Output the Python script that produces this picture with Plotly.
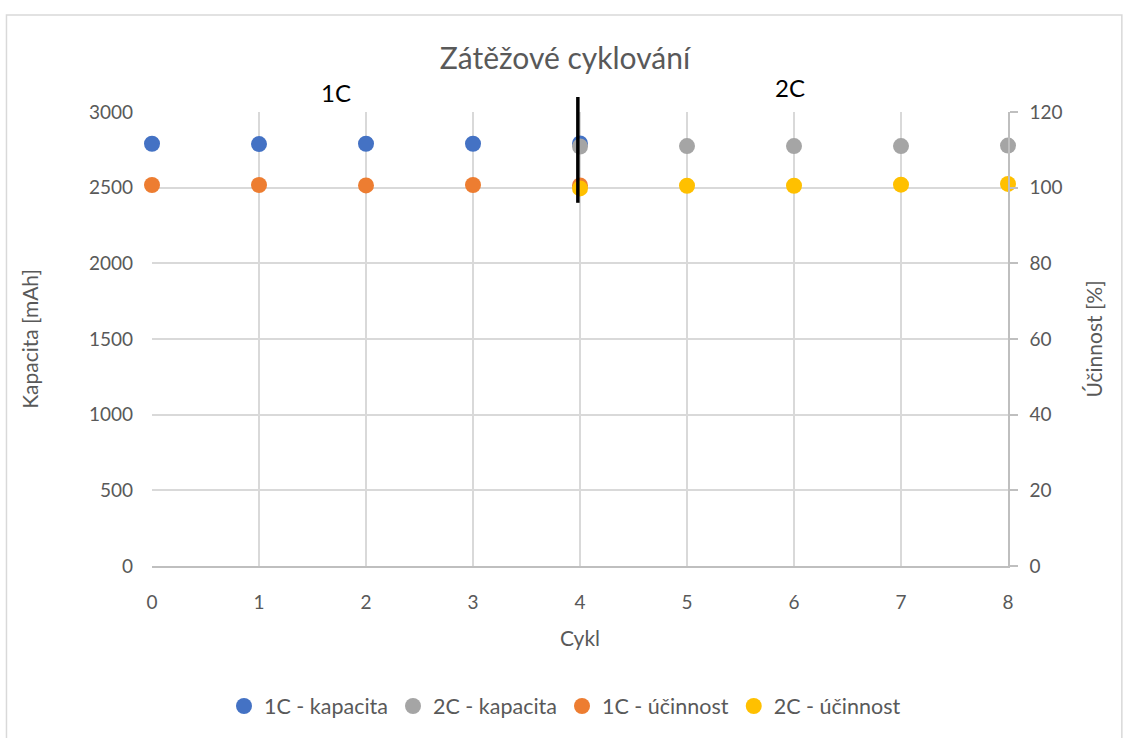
import plotly.graph_objects as go

# Cycle numbers for each test phase
cycles_1c = [0, 1, 2, 3, 4]
cycles_2c = [4, 5, 6, 7, 8]

# Discharge capacity [mAh]
cap_1c = [2790, 2788, 2790, 2790, 2792]
cap_2c = [2772, 2775, 2775, 2775, 2778]

# Coulombic efficiency [%]
eff_1c = [100.7, 100.7, 100.6, 100.7, 100.6]
eff_2c = [99.8, 100.5, 100.5, 100.8, 101.0]

grey_txt = "#595959"
grid = "#d9d9d9"
font = "Lato, Carlito, Calibri, sans-serif"

fig = go.Figure()

def add(x, y, name, color, axis):
    fig.add_trace(go.Scatter(
        x=x, y=y, name=name, mode="markers", yaxis=axis,
        marker=dict(size=16, color=color, symbol="circle"),
        cliponaxis=False,
    ))

add(cycles_1c, cap_1c, "1C - kapacita", "#4472c4", "y")
add(cycles_2c, cap_2c, "2C - kapacita", "#a5a5a5", "y")
add(cycles_1c, eff_1c, "1C - účinnost", "#ed7d31", "y2")
add(cycles_2c, eff_2c, "2C - účinnost", "#ffc000", "y2")

# chart border
fig.add_shape(type="rect", xref="paper", yref="paper",
              x0=-0.170, x1=1.133, y0=-0.385, y1=1.2137,
              line=dict(color="#d9d9d9", width=1.5), layer="below")

# divider between 1C and 2C phases (cycle 4 sits at the middle of the x range)
fig.add_shape(type="line", xref="paper", yref="paper", x0=0.4975, x1=0.4975,
              y0=0.80, y1=1.033, line=dict(color="black", width=3.5))

fig.add_annotation(x=0.2146, y=1.044, xref="paper", yref="paper", text="1C", showarrow=False,
                   xanchor="center", yanchor="middle",
                   font=dict(size=24, color="black", family=font))
fig.add_annotation(x=0.7453, y=1.053, xref="paper", yref="paper", text="2C", showarrow=False,
                   xanchor="center", yanchor="middle",
                   font=dict(size=24, color="black", family=font))

fig.update_layout(
    width=1130, height=738,
    margin=dict(l=152, r=122, t=112, b=172),
    paper_bgcolor="white", plot_bgcolor="white",
    font=dict(family=font, color=grey_txt, size=19),
    title=dict(text="Zátěžové cyklování", x=0.5, xanchor="center",
               y=1 - 58 / 738, yanchor="middle",
               font=dict(size=30, color=grey_txt, family=font)),
    showlegend=True,
    legend=dict(orientation="h", x=0.5, xanchor="center", xref="container",
                y=(738 - 706) / 738, yref="container", yanchor="middle",
                font=dict(size=21.5, color=grey_txt), itemwidth=30,
                traceorder="normal"),
    xaxis=dict(range=[0, 8], dtick=1, showgrid=True, gridcolor=grid, gridwidth=1.5,
               zeroline=False, showline=True, linecolor="#bfbfbf", linewidth=1.5,
               ticks="", ticklabelstandoff=18,
               title=dict(text="Cykl", font=dict(size=21, color=grey_txt), standoff=20)),
    yaxis=dict(range=[0, 3000], dtick=500, showgrid=True, gridcolor=grid, gridwidth=1.5,
               zeroline=False, showline=False, ticks="", ticklabelstandoff=18,
               title=dict(text="Kapacita [mAh]", font=dict(size=21, color=grey_txt), standoff=44)),
    yaxis2=dict(range=[0, 120], dtick=20, overlaying="y", side="right", showgrid=False,
                zeroline=False, showline=True, linecolor="#bfbfbf", linewidth=1.5,
                ticks="outside", ticklen=8, tickcolor="#bfbfbf", tickwidth=1.5,
                ticklabelstandoff=8,
                title=dict(text="Účinnost [%]", font=dict(size=21, color=grey_txt), standoff=26)),
)

fig.write_html("out.html")
